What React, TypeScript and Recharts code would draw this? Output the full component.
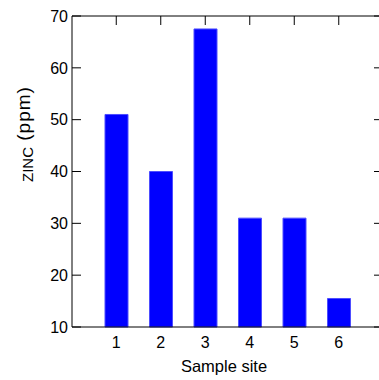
import { BarChart, Bar, XAxis, YAxis, ReferenceLine } from "recharts";

const sites = ["1", "2", "3", "4", "5", "6"];
const zinc = [51, 40, 67.5, 31, 31, 15.5];
const yTicks = [10, 20, 30, 40, 50, 60, 70];

const data = sites.map((site, i) => ({ site, zinc: zinc[i] }));

const font = "'Liberation Sans', Arial, sans-serif";
// plot box size (axes are square in the original)
const PLOT_W = 311;
const PLOT_H = 311;
const TICK = 9;

function LeftTick(props: any) {
  const { x, y, payload } = props;
  return (
    <g>
      <line x1={x} x2={x + TICK} y1={y} y2={y} stroke="#000" />
      <line x1={x + PLOT_W - TICK} x2={x + PLOT_W} y1={y} y2={y} stroke="#000" />
      <text x={x - 4} y={y} dy="0.355em" textAnchor="end" fontSize={16} fontFamily={font} fill="#000">
        {payload.value}
      </text>
    </g>
  );
}

function BottomTick(props: any) {
  const { x, y, payload } = props;
  return (
    <g>
      <line x1={x} x2={x} y1={y - PLOT_H} y2={y - PLOT_H + TICK} stroke="#000" />
      <text x={x} y={y + 10} dy="0.71em" textAnchor="middle" fontSize={16} fontFamily={font} fill="#000">
        {payload.value}
      </text>
    </g>
  );
}

export default function App() {
  return (
    <div style={{ position: "absolute", left: 0, top: 0, width: 379, height: 380, overflow: "hidden", background: "#fff" }}>
      <BarChart width={383} height={380} data={data} margin={{ top: 16, right: 0, bottom: 0, left: 0 }}>
        <XAxis
          dataKey="site"
          height={53}
          padding={{ left: 22, right: 22 }}
          tickLine={false}
          tickSize={0}
          tickMargin={0}
          tick={<BottomTick />}
          axisLine={{ stroke: "#000" }}
          label={{
            content: () => (
              <text x={224} y={372} textAnchor="middle" fontSize={16.5} fontFamily={font} fill="#000">
                Sample site
              </text>
            ),
          }}
        />
        <YAxis
          type="number"
          width={72}
          domain={[10, 70]}
          ticks={yTicks}
          interval={0}
          tickLine={false}
          tickSize={0}
          tickMargin={0}
          tick={<LeftTick />}
          axisLine={{ stroke: "#000" }}
          label={{
            content: () => (
              <text x={33} y={182} transform="rotate(-90, 33, 182)" fontFamily={font} fill="#000">
                <tspan fontSize={15}>ZINC</tspan>
                <tspan fontSize={19} dy={-3} letterSpacing={1}> (ppm)</tspan>
              </text>
            ),
          }}
        />
        <ReferenceLine y={70} stroke="#000" />
        <Bar dataKey="zinc" fill="#0000ff" stroke="#4d4dff" strokeWidth={1} barSize={23} isAnimationActive={false} />
      </BarChart>
    </div>
  );
}
